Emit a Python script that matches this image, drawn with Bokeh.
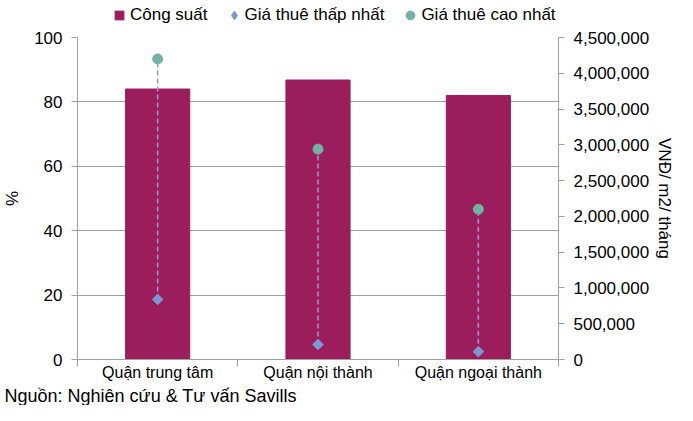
import math
from bokeh.plotting import figure
from bokeh.layouts import column
from bokeh.models import (Range1d, LinearAxis, FixedTicker, NumeralTickFormatter,
                          CustomJSTickFormatter, ColumnDataSource, Legend,
                          LegendItem, Title)
from bokeh.embed import file_html
from bokeh.resources import INLINE

# ---- data ----
categories = ["Quận trung tâm", "Quận nội thành", "Quận ngoại thành"]
cong_suat = [84.0, 86.8, 82.0]              # %
gia_thap = [840000, 210000, 110000]         # VND/m2/month
gia_cao = [4200000, 2940000, 2100000]       # VND/m2/month
left_ticks = [0, 20, 40, 60, 80, 100]
right_ticks = [0, 500000, 1000000, 1500000, 2000000, 2500000,
               3000000, 3500000, 4000000, 4500000]
legend_labels = ["Công suất", "Giá thuê thấp nhất", "Giá thuê cao nhất"]
source_text = "Nguồn: Nghiên cứu & Tư vấn Savills"
y_label = "%"
y2_label = "VNĐ/ m2/ tháng"

FONT = "Liberation Sans"
BAR = "#9C1D5B"
DIA = "#7D97CF"
DASH = "#8DA0D2"
CIR = "#72B3A3"
GRID = "#A0A0A0"
W = 677

# ---------------- legend strip ----------------
lg = figure(width=W, height=26, output_backend="svg", toolbar_location=None,
            x_range=Range1d(0, 1), y_range=Range1d(0, 1),
            x_axis_location=None, y_axis_location=None,
            min_border_left=74, min_border_right=113, min_border_top=0,
            min_border_bottom=0)
lg.outline_line_color = None
lg.xgrid.visible = False
lg.ygrid.visible = False
off = ColumnDataSource(dict(x=[-5], y=[-5]))   # proxies, outside the view
pr1 = lg.scatter(x="x", y="y", source=off, marker="square", fill_color=BAR, line_color=BAR)
pr2 = lg.scatter(x="x", y="y", source=off, marker="diamond", fill_color=DIA, line_color=DIA)
pr3 = lg.scatter(x="x", y="y", source=off, marker="circle", fill_color=CIR, line_color=CIR)
legend = Legend(items=[LegendItem(label=legend_labels[0], renderers=[pr1]),
                       LegendItem(label=legend_labels[1], renderers=[pr2]),
                       LegendItem(label=legend_labels[2], renderers=[pr3])],
                orientation="horizontal", location=(31, 0),
                glyph_width=22, glyph_height=22, label_standoff=0, spacing=15,
                padding=0, margin=0, border_line_color=None,
                background_fill_alpha=0, label_height=22,
                label_text_font=FONT, label_text_font_size="17px",
                label_text_color="black")
lg.add_layout(legend, "center")

# ---------------- main chart ----------------
xs = [i + 0.5 for i in range(len(categories))]
src = ColumnDataSource(dict(x=xs, cs=cong_suat, lo=gia_thap, hi=gia_cao))

p = figure(width=W, height=379, output_backend="svg", toolbar_location=None,
           x_range=Range1d(0, len(categories)), y_range=Range1d(0, 100),
           min_border_left=74, min_border_right=113, min_border_top=11,
           min_border_bottom=45)
p.outline_line_color = None
p.extra_y_ranges = {"rent": Range1d(0, right_ticks[-1])}

p.vbar(x="x", top="cs", width=0.40, source=src, fill_color=BAR, line_color=BAR)
p.segment(x0="x", y0="lo", x1="x", y1="hi", source=src, y_range_name="rent",
          line_color=DASH, line_width=1.5, line_dash="5 3")
p.scatter(x="x", y="lo", source=src, y_range_name="rent", marker="square",
          angle=math.pi / 4, size=7.5, fill_color=DIA, line_color=DIA)
p.scatter(x="x", y="hi", source=src, y_range_name="rent", marker="circle",
          size=10, fill_color=CIR, line_color=CIR)

# x axis: labels at category centres, tick marks at category boundaries
xa = p.xaxis[0]
xa.ticker = FixedTicker(ticks=xs, minor_ticks=list(range(len(categories) + 1)))
xa.formatter = CustomJSTickFormatter(args=dict(labels=categories),
                                     code="return labels[Math.floor(tick)];")
xa.major_tick_out = 0
xa.major_tick_in = 0
xa.minor_tick_out = 7
xa.minor_tick_in = 0
xa.minor_tick_line_color = GRID
xa.axis_line_color = GRID
xa.major_label_standoff = -3
xa.major_label_text_font = FONT
xa.major_label_text_font_size = "16px"
xa.major_label_text_color = "black"
p.xgrid.visible = False

# left axis
ya = p.yaxis[0]
ya.ticker = FixedTicker(ticks=left_ticks, minor_ticks=[])
ya.major_tick_out = 6
ya.major_tick_in = 0
ya.major_tick_line_color = GRID
ya.axis_line_color = GRID
ya.major_label_standoff = 9
ya.major_label_text_font = FONT
ya.major_label_text_font_size = "17px"
ya.major_label_text_color = "black"
ya.axis_label = y_label
ya.axis_label_standoff = 9
ya.axis_label_text_font = FONT
ya.axis_label_text_font_size = "17px"
ya.axis_label_text_font_style = "normal"
ya.axis_label_text_color = "black"
p.ygrid.grid_line_color = GRID

# right axis
ra = LinearAxis(y_range_name="rent",
                ticker=FixedTicker(ticks=right_ticks, minor_ticks=[]),
                formatter=NumeralTickFormatter(format="0,0"))
ra.major_tick_out = 6
ra.major_tick_in = 0
ra.major_tick_line_color = GRID
ra.axis_line_color = GRID
ra.major_label_standoff = 9
ra.major_label_text_font = FONT
ra.major_label_text_font_size = "17px"
ra.major_label_text_color = "black"
ra.axis_label = y2_label
ra.axis_label_standoff = 3
ra.axis_label_text_font = FONT
ra.axis_label_text_font_size = "17px"
ra.axis_label_text_font_style = "normal"
ra.axis_label_text_color = "black"
p.add_layout(ra, "right")

# source note under the axis, flush with the left edge of the page
p.add_layout(Title(text=source_text, align="left", offset=-73, standoff=0,
                   text_font=FONT, text_font_size="18px",
                   text_font_style="normal", text_color="black"), "below")

layout = column(lg, p, spacing=0)
open("out.html", "w").write(file_html(layout, INLINE))
